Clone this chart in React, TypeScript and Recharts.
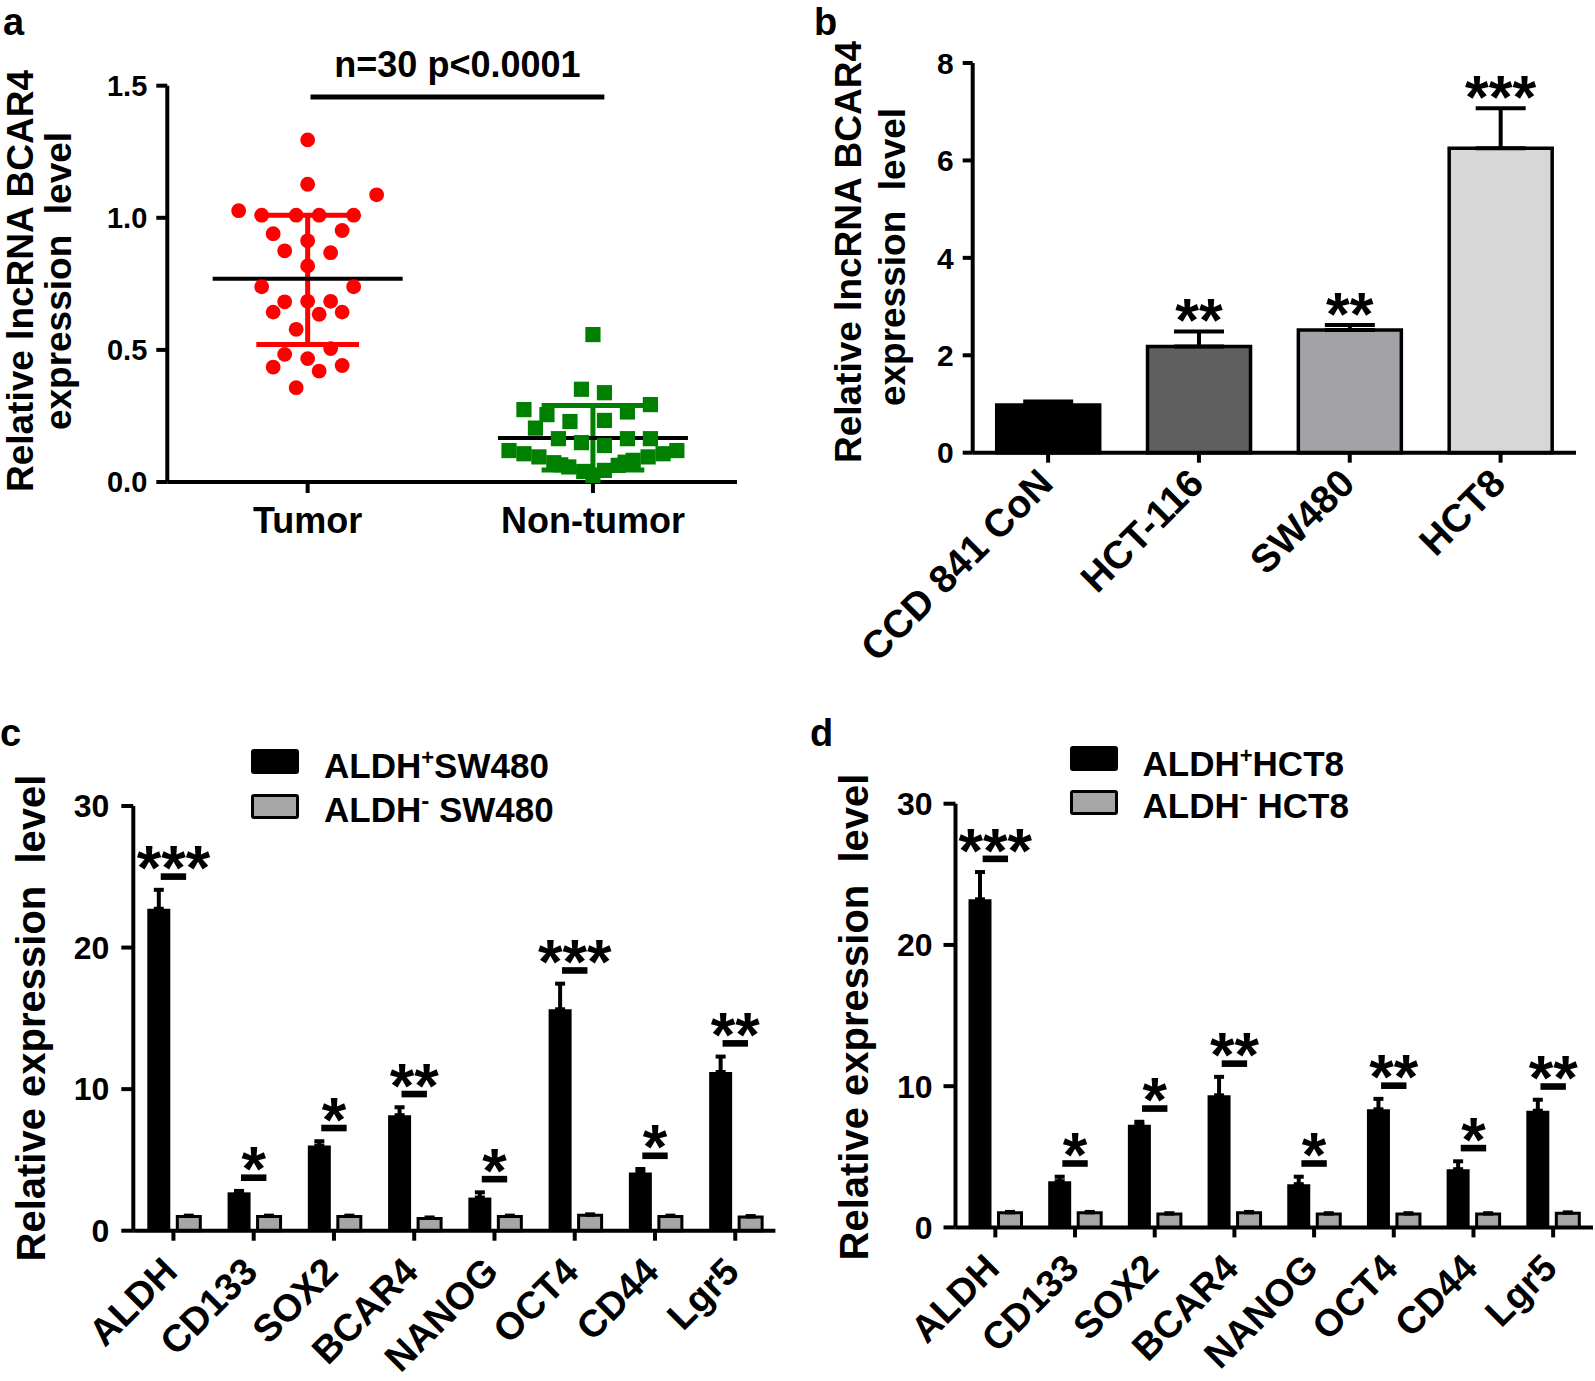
import React from 'react';
import {
  ScatterChart, Scatter, XAxis, YAxis, ReferenceLine, Label,
  ComposedChart, Bar, Cell, ErrorBar, Line,
} from 'recharts';

const FONT = "'Liberation Sans', Arial, Helvetica, sans-serif";

// ---- panel a : individual values ----
const groupsA = ['Tumor', 'Non-tumor'];
const tumorValues = [
  1.295, 1.127, 1.087, 1.027, 1.01, 1.01, 1.01, 1.01, 0.94, 0.952,
  0.913, 0.875, 0.868, 0.818, 0.739, 0.739, 0.682, 0.684, 0.684, 0.643,
  0.635, 0.643, 0.578, 0.483, 0.505, 0.467, 0.435, 0.441, 0.42, 0.357,
];
// horizontal column of each dot in the scatter (prism style spread)
const tumorCols = [0, 0, 6, -6, -4, -1, 1, 4, -3, 3, 0, -2, 2, 0, -4, 4, -2, 0, 2, -3, 1, 3, -1, -2, 2, 0, -3, 3, 1, -1];
const nonTumorValues = [
  0.558, 0.351, 0.338, 0.293, 0.274, 0.265, 0.255, 0.229, 0.233, 0.204,
  0.164, 0.149, 0.138, 0.164, 0.164, 0.119, 0.107, 0.095, 0.073, 0.057,
  0.04, 0.025, 0.044, 0.063, 0.082, 0.095, 0.107, 0.119, 0.065, 0.075,
];
const nonTumorCols = [0, -1, 1, 5, -6, 3, -4, -2, 1, -5, -3, -1, 1, 3, 5, -7.3, -6, -4.7, -3.4, -2.1, -0.8, 0, 1, 2.2, 3.5, 4.8, 6.1, 7.3, -2.8, 2.8];
const groupMeans = [0.769, 0.167];
const groupSdHigh = [1.01, 0.29];
const groupSdLow = [0.52, 0.045];
const groupColors = ['#ff0000', '#008000'];
const pTest = { from: 1.01, to: 2.04, y: 1.457, text: 'n=30 p<0.0001' };

// ---- panel b : cell lines ----
const cellLines = ['CCD 841 CoN', 'HCT-116', 'SW480', 'HCT8'];
const cellMeans = [0.98, 2.18, 2.52, 6.25];
const cellErrs = [0.07, 0.31, 0.1, 0.82];
const cellStars = ['', '**', '**', '***'];
const cellColors = ['#000000', '#5f5f5f', '#a3a3a7', '#d7d7d7'];

// ---- panels c, d : marker genes ----
const markers = ['ALDH', 'CD133', 'SOX2', 'BCAR4', 'NANOG', 'OCT4', 'CD44', 'Lgr5'];
const swPos = [22.74, 2.71, 6.01, 8.16, 2.34, 15.64, 4.11, 11.21];
const swPosErr = [1.34, 0.1, 0.31, 0.56, 0.37, 1.81, 0.25, 1.09];
const swNeg = [1.0, 1.0, 1.0, 0.87, 1.0, 1.09, 1.0, 0.97];
const swNegErr = [0.1, 0.1, 0.1, 0.1, 0.1, 0.1, 0.1, 0.1];
const swStars = ['***', '*', '*', '**', '*', '***', '*', '**'];

const hctPos = [23.23, 3.27, 7.27, 9.35, 3.06, 8.36, 4.12, 8.26];
const hctPosErr = [1.93, 0.32, 0.21, 1.31, 0.53, 0.74, 0.56, 0.78];
const hctNeg = [1.03, 1.03, 0.94, 1.03, 0.94, 0.94, 0.94, 1.0];
const hctNegErr = [0.1, 0.1, 0.1, 0.1, 0.1, 0.1, 0.1, 0.1];
const hctStars = ['***', '*', '*', '**', '*', '**', '*', '**'];

const COL_STEP = 0.0403;
const tumorPts = tumorValues.map((v, i) => ({ x: 1 + tumorCols[i] * COL_STEP, y: v }));
const nonTumorPts = nonTumorValues.map((v, i) => ({ x: 2 + nonTumorCols[i] * COL_STEP, y: v }));

const cellData = cellLines.map((name, i) => ({
  name, mean: cellMeans[i], err: [0, cellErrs[i]], top: cellMeans[i] + cellErrs[i],
}));
const swData = markers.map((name, i) => ({
  name, pos: swPos[i], posErr: [0, swPosErr[i]], neg: swNeg[i], negErr: [0, swNegErr[i]],
  top: swPos[i] + swPosErr[i],
}));
const hctData = markers.map((name, i) => ({
  name, pos: hctPos[i], posErr: [0, hctPosErr[i]], neg: hctNeg[i], negErr: [0, hctNegErr[i]],
  top: hctPos[i] + hctPosErr[i],
}));

const axisLine = { stroke: '#000', strokeWidth: 4 };
const tickFont = (size: number) => ({ fontSize: size, fontWeight: 700, fill: '#000', fontFamily: FONT });

function AxisTitle({ lines, size }: { lines: { text: string; x: number; y: number }[]; size: number }) {
  return (
    <g>
      {lines.map((l, i) => (
        <text
          key={i}
          x={l.x}
          y={l.y}
          transform={`rotate(-90 ${l.x} ${l.y})`}
          textAnchor="middle"
          fontSize={size}
          fontWeight={700}
          fontFamily={FONT}
          fill="#000"
          xmlSpace="preserve"
          style={{ whiteSpace: 'pre' }}
        >
          {l.text}
        </text>
      ))}
    </g>
  );
}

function RotTick(props: any) {
  const { x, y, payload, shiftX, shiftY, size } = props;
  return (
    <text
      transform={`translate(${x + shiftX},${y + shiftY}) rotate(-45)`}
      textAnchor="end"
      fontSize={size}
      fontWeight={700}
      fontFamily={FONT}
      fill="#000"
    >
      {payload.value}
    </text>
  );
}

// star annotations sit above the error bar top (dataKey "top")
function starDot(stars: string[], withBar: boolean, fontSize: number) {
  return (props: any) => {
    const { cx, cy, index } = props;
    if (!stars[index] || cx == null || cy == null) return <g key={`s-${index}`} />;
    if (!withBar) {
      return (
        <text key={`s-${index}`} x={cx} y={cy + 9.5} textAnchor="middle" fontSize={fontSize}
          fontWeight={700} fontFamily={FONT} fill="#000">{stars[index]}</text>
      );
    }
    return (
      <g key={`s-${index}`}>
        <rect x={cx - 12.7} y={cy - 16.5} width={25.4} height={6.6} fill="#000" />
        <text x={cx} y={cy - 0.5} textAnchor="middle" fontSize={fontSize} fontWeight={700}
          fontFamily={FONT} fill="#000">{stars[index]}</text>
      </g>
    );
  };
}

function PanelLetter({ ch, left, top }: { ch: string; left: number; top: number }) {
  return (
    <div style={{ position: 'absolute', left, top, zIndex: 10, font: `bold 38px ${FONT}`, lineHeight: '42.5px', color: '#000' }}>{ch}</div>
  );
}

function LegendBox({ left, rectLeft, rectTops, baselines, names }: any) {
  const textStyle: React.CSSProperties = {
    position: 'absolute', left, zIndex: 5, font: `bold 35px ${FONT}`, lineHeight: '35px', whiteSpace: 'pre', color: '#000',
  };
  return (
    <>
      <div style={{ position: 'absolute', zIndex: 5, left: rectLeft, top: rectTops[0], width: 48, height: 25, background: '#000', borderRadius: 3 }} />
      <div style={{ position: 'absolute', zIndex: 5, left: rectLeft, top: rectTops[1], width: 48, height: 25, background: '#a6a6a6', border: '3px solid #000', boxSizing: 'border-box', borderRadius: 3 }} />
      <div style={{ ...textStyle, top: baselines[0] - 30 }}>
        ALDH<span style={{ fontSize: 22, position: 'relative', top: -13 }}>+</span>{names[0]}
      </div>
      <div style={{ ...textStyle, top: baselines[1] - 30 }}>
        ALDH<span style={{ fontSize: 24, position: 'relative', top: -13 }}>-</span> {names[1]}
      </div>
    </>
  );
}

function PanelA() {
  return (
    <ScatterChart width={800} height={600} margin={{ top: 85.7, right: 63, bottom: 58, left: 67.3 }}>
      <XAxis
        type="number" dataKey="x" domain={[0.508, 2.505]} ticks={[1, 2]} allowDataOverflow interval={0}
        height={60} axisLine={axisLine} tickLine={axisLine} tickSize={11}
        tick={(p: any) => (
          <text x={p.x} y={p.y + 38} textAnchor="middle" fontSize={36} fontWeight={700} fontFamily={FONT} fill="#000">
            {groupsA[p.payload.value - 1]}
          </text>
        )}
      />
      <YAxis
        type="number" dataKey="y" domain={[0, 1.5]} ticks={[0, 0.5, 1, 1.5]} width={100}
        tickFormatter={(v: number) => v.toFixed(1)} axisLine={axisLine} tickLine={axisLine}
        tickSize={11} tickMargin={9} tick={tickFont(29)}
      >
        <Label content={() => (
          <AxisTitle size={37} lines={[
            { text: 'Relative lncRNA BCAR4', x: 33, y: 281 },
            { text: 'expression  level', x: 71, y: 281 },
          ]} />
        )} />
      </YAxis>
      <Scatter data={tumorPts} isAnimationActive={false}
        shape={(p: any) => <circle cx={p.cx} cy={p.cy} r={7.4} fill={groupColors[0]} />} />
      <Scatter data={nonTumorPts} isAnimationActive={false}
        shape={(p: any) => <rect x={p.cx - 7.6} y={p.cy - 7.6} width={15.2} height={15.2} fill={groupColors[1]} />} />
      {groupMeans.map((m, i) => [
        <ReferenceLine key={`sd${i}`} segment={[{ x: i + 1, y: groupSdLow[i] }, { x: i + 1, y: groupSdHigh[i] }]} stroke={groupColors[i]} strokeWidth={5} />,
        <ReferenceLine key={`hi${i}`} segment={[{ x: i + 0.82, y: groupSdHigh[i] }, { x: i + 1.18, y: groupSdHigh[i] }]} stroke={groupColors[i]} strokeWidth={5} />,
        <ReferenceLine key={`lo${i}`} segment={[{ x: i + 0.82, y: groupSdLow[i] }, { x: i + 1.18, y: groupSdLow[i] }]} stroke={groupColors[i]} strokeWidth={5} />,
        <ReferenceLine key={`m${i}`} segment={[{ x: i + 0.667, y: m }, { x: i + 1.333, y: m }]} stroke="#000" strokeWidth={4} />,
      ])}
      <ReferenceLine
        segment={[{ x: pTest.from, y: pTest.y }, { x: pTest.to, y: pTest.y }]}
        stroke="#000" strokeWidth={5}
        label={{ value: pTest.text, position: 'top', offset: 20, fontSize: 36, fontWeight: 700, fill: '#000', fontFamily: FONT }}
      />
    </ScatterChart>
  );
}

function PanelB() {
  return (
    <ComposedChart width={795} height={680} data={cellData} margin={{ top: 63, right: 19, bottom: 47.3, left: 72.7 }}>
      <XAxis dataKey="name" interval={0} height={180} axisLine={axisLine} tickLine={axisLine} tickSize={10}
        tick={(p: any) => <RotTick {...p} shiftX={7} shiftY={21} size={39} />} />
      <YAxis domain={[0, 8]} ticks={[0, 2, 4, 6, 8]} width={100} axisLine={axisLine} tickLine={axisLine}
        tickSize={10} tickMargin={9} tick={tickFont(30)}>
        <Label content={() => (
          <AxisTitle size={37} lines={[
            { text: 'Relative lncRNA BCAR4', x: 61, y: 252 },
            { text: 'expression  level', x: 104.5, y: 257 },
          ]} />
        )} />
      </YAxis>
      <Bar dataKey="mean" barSize={103} stroke="#000" strokeWidth={3.5} isAnimationActive={false}>
        {cellData.map((d, i) => <Cell key={d.name} fill={cellColors[i]} />)}
        <ErrorBar dataKey="err" width={25} strokeWidth={4} stroke="#000" />
      </Bar>
      <Line dataKey="top" stroke="none" isAnimationActive={false} activeDot={false}
        dot={starDot(cellStars, false, 61)} />
    </ComposedChart>
  );
}

function MarkerPanel({ data, stars, margin, tickMargin, title }: any) {
  return (
    <ComposedChart width={795} height={691} data={data} margin={margin} barGap={7}>
      <XAxis dataKey="name" interval={0} height={120} axisLine={axisLine} tickLine={axisLine} tickSize={10}
        tick={(p: any) => <RotTick {...p} shiftX={6} shiftY={31} size={38} />} />
      <YAxis domain={[0, 30]} ticks={[0, 10, 20, 30]} width={100} axisLine={axisLine} tickLine={axisLine}
        tickSize={12} tickMargin={tickMargin} tick={tickFont(32)}>
        <Label content={() => <AxisTitle size={40} lines={[title]} />} />
      </YAxis>
      <Bar dataKey="pos" barSize={23} fill="#000" isAnimationActive={false}>
        <ErrorBar dataKey="posErr" width={5} strokeWidth={4} stroke="#000" />
      </Bar>
      <Bar dataKey="neg" barSize={23} fill="#a6a6a6" stroke="#000" strokeWidth={3} isAnimationActive={false}>
        <ErrorBar dataKey="negErr" width={5} strokeWidth={3} stroke="#000" />
      </Bar>
      <Line dataKey="top" stroke="none" isAnimationActive={false} activeDot={false}
        dot={starDot(stars, true, 63)} />
    </ComposedChart>
  );
}

export default function App() {
  return (
    <div style={{ position: 'relative', width: 1595, height: 1381, background: '#fff', fontFamily: FONT }}>
      <style>{'body{margin:0}'}</style>
      <div style={{ position: 'absolute', left: 0, top: 0, width: 800, height: 600 }}>
        <PanelA />
        <PanelLetter ch="a" left={3} top={1} />
      </div>
      <div style={{ position: 'absolute', left: 800, top: 0, width: 795, height: 680 }}>
        <PanelB />
        <PanelLetter ch="b" left={14} top={1} />
      </div>
      <div style={{ position: 'absolute', left: 0, top: 690, width: 795, height: 691 }}>
        <MarkerPanel
          data={swData} stars={swStars} tickMargin={12}
          margin={{ top: 116, right: 19.6, bottom: 30.3, left: 33.3 }}
          title={{ text: 'Relative expression  level', x: 45, y: 328 }}
        />
        <LegendBox left={324} rectLeft={251} rectTops={[58.5, 103.5]} baselines={[88, 132]} names={['SW480', 'SW480']} />
        <PanelLetter ch="c" left={0} top={22} />
      </div>
      <div style={{ position: 'absolute', left: 800, top: 690, width: 795, height: 691 }}>
        <MarkerPanel
          data={hctData} stars={hctStars} tickMargin={11}
          margin={{ top: 113.7, right: 2, bottom: 33.6, left: 55.5 }}
          title={{ text: 'Relative expression  level', x: 68, y: 327 }}
        />
        <LegendBox left={342.5} rectLeft={270} rectTops={[56, 100]} baselines={[86, 128]} names={['HCT8', 'HCT8']} />
        <PanelLetter ch="d" left={10} top={22} />
      </div>
    </div>
  );
}
